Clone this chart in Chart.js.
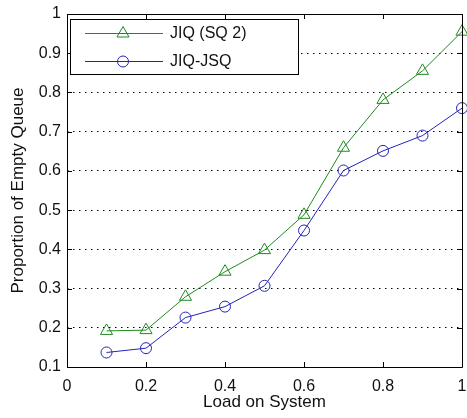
<!DOCTYPE html>
<html>
<head>
<meta charset="utf-8">
<script src="https://cdn.jsdelivr.net/npm/chart.js@4/dist/chart.umd.min.js"></script>
<style>
  html, body { margin: 0; padding: 0; background: #fff; overflow: hidden; }
  #wrap { width: 467px; height: 418px; overflow: hidden; }
</style>
</head>
<body>
<!-- canvas a bit wider than the window: the right edge gets cut like in the figure -->
<div id="wrap"><canvas id="chart" width="470" height="418"></canvas></div>
<script>
// data
const loads = [0.1, 0.2, 0.3, 0.4, 0.5, 0.6, 0.7, 0.8, 0.9, 1.0];
const jiqSq2 = [0.192, 0.194, 0.279, 0.343, 0.398, 0.488, 0.659, 0.781, 0.855, 0.955];
const jiqJsq = [0.137, 0.148, 0.226, 0.254, 0.307, 0.448, 0.601, 0.651, 0.690, 0.760];
const seriesNames = ['JIQ (SQ 2)', 'JIQ-JSQ'];

const GREEN = '#1f8a1f';
const BLUE = '#2323bb';
const FONT = '"Liberation Sans", Arial, sans-serif';

function toPoints(xs, ys) {
    return xs.map((x, i) => ({ x: x, y: ys[i] }));
}

// 1.0 -> "1", 0.30000000000000004 -> "0.3"
function fmt(v) {
    return String(Number(v.toFixed(1)));
}

// matlab style box, inward ticks and legend
const matlabAxes = {
    id: 'matlabAxes',
    afterDraw(chart) {
        const ctx = chart.ctx;
        const a = chart.chartArea;
        const xs = chart.scales.x;
        const ys = chart.scales.y;
        const tl = 5;
        ctx.save();
        ctx.strokeStyle = '#000';
        ctx.lineWidth = 1;
        ctx.setLineDash([]);
        ctx.beginPath();
        ctx.rect(Math.round(a.left) + 0.5, Math.round(a.top) + 0.5,
            Math.round(a.right - a.left), Math.round(a.bottom - a.top));
        ctx.stroke();

        ctx.beginPath();
        xs.ticks.forEach(t => {
            const px = Math.round(xs.getPixelForValue(t.value)) + 0.5;
            ctx.moveTo(px, a.bottom); ctx.lineTo(px, a.bottom - tl);
            ctx.moveTo(px, a.top); ctx.lineTo(px, a.top + tl);
        });
        ys.ticks.forEach(t => {
            const py = Math.round(ys.getPixelForValue(t.value)) + 0.5;
            ctx.moveTo(a.left, py); ctx.lineTo(a.left + tl, py);
            ctx.moveTo(a.right, py); ctx.lineTo(a.right - tl, py);
        });
        ctx.stroke();

        // legend
        const bx = 70.5, by = 19.5, bw = 228, bh = 55;
        ctx.fillStyle = '#fff';
        ctx.fillRect(bx, by, bw, bh);
        ctx.strokeRect(bx, by, bw, bh);
        const rows = [33, 61];
        chart.data.datasets.forEach((ds, i) => {
            const y = rows[i] + 0.5;
            ctx.strokeStyle = ds.borderColor;
            ctx.lineWidth = 1;
            ctx.beginPath();
            ctx.moveTo(85, y); ctx.lineTo(163, y);
            ctx.stroke();
            const cx = 123, r = ds.pointRadius;
            ctx.beginPath();
            if (ds.pointStyle === 'triangle') {
                ctx.moveTo(cx, y - r);
                ctx.lineTo(cx + r * 0.866, y + r / 2);
                ctx.lineTo(cx - r * 0.866, y + r / 2);
                ctx.closePath();
            } else {
                ctx.arc(cx, y, r, 0, Math.PI * 2);
            }
            ctx.stroke();
            ctx.fillStyle = '#111';
            ctx.font = '16px ' + FONT;
            ctx.textBaseline = 'middle';
            ctx.textAlign = 'left';
            ctx.fillText(ds.label, 170, y);
        });
        ctx.restore();
    }
};

new Chart(document.getElementById('chart'), {
    type: 'line',
    data: {
        datasets: [
            {
                label: seriesNames[0],
                data: toPoints(loads, jiqSq2),
                borderColor: GREEN,
                borderWidth: 1,
                pointStyle: 'triangle',
                pointRadius: 7,
                pointBorderColor: GREEN,
                pointBackgroundColor: 'rgba(0,0,0,0)',
                pointBorderWidth: 1,
                clip: false,
            },
            {
                label: seriesNames[1],
                data: toPoints(loads, jiqJsq),
                borderColor: BLUE,
                borderWidth: 1,
                pointStyle: 'circle',
                pointRadius: 5.5,
                pointBorderColor: BLUE,
                pointBackgroundColor: 'rgba(0,0,0,0)',
                pointBorderWidth: 1,
                clip: false,
            },
        ],
    },

    options: {
        responsive: false,
        animation: false,
        layout: {
            padding: { top: 14, right: 2, left: 0, bottom: 0 },
        },
        plugins: {
            legend: { display: false },
            tooltip: { enabled: false },
        },
        scales: {
            x: {
                type: 'linear',
                min: 0,
                max: 1,
                afterFit(scale) {
                    scale.height = 51;
                    scale.paddingLeft = 0;
                    scale.paddingRight = 0;
                },
                ticks: {
                    stepSize: 0.2,
                    color: '#111',
                    padding: 2,
                    maxRotation: 0,
                    font: { family: FONT, size: 16 },
                    callback: fmt,
                },
                grid: { display: false },
                border: { display: false },
                title: {
                    display: true,
                    text: 'Load on System',
                    color: '#111',
                    font: { family: FONT, size: 17 },
                    padding: { top: 0, bottom: 5 },
                },
            },
            y: {
                min: 0.1,
                max: 1,
                afterFit(scale) {
                    scale.width = 67;
                    scale.paddingTop = 0;
                    scale.paddingBottom = 0;
                },
                ticks: {
                    stepSize: 0.1,
                    color: '#111',
                    padding: 6,
                    font: { family: FONT, size: 16 },
                    callback: fmt,
                },
                grid: {
                    color: '#000',
                    lineWidth: 1,
                    drawTicks: false,
                },
                border: { display: false, dash: [1.5, 4.5] },
                title: {
                    display: true,
                    text: 'Proportion of Empty Queue',
                    color: '#111',
                    font: { family: FONT, size: 17 },
                    padding: { top: 8, bottom: 0 },
                },
            },
        },
    },
    plugins: [matlabAxes],
});
</script>
</body>
</html>
